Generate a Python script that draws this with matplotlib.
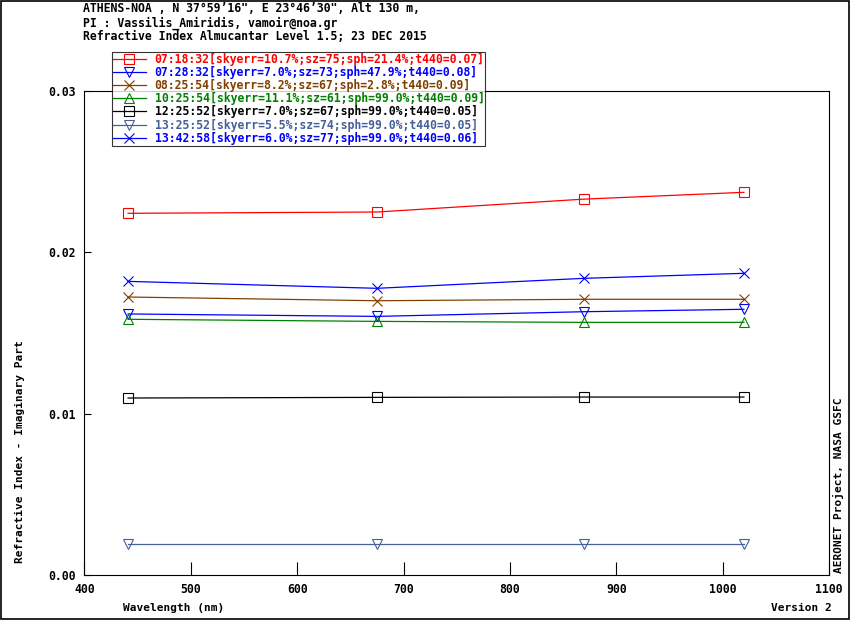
import matplotlib
matplotlib.use('Agg')
import matplotlib.pyplot as plt
from matplotlib.patches import Rectangle

# Wavelengths (nm)
wavelength = [441, 675, 870, 1020]

# Imaginary part of refractive index, one list per almucantar
k_0718 = [0.02242, 0.02250, 0.02330, 0.02372]
k_0728 = [0.01618, 0.01603, 0.01632, 0.01647]
k_0825 = [0.01723, 0.01700, 0.01709, 0.01709]
k_1025 = [0.01585, 0.01572, 0.01566, 0.01566]
k_1225 = [0.01097, 0.01101, 0.01103, 0.01103]
k_1325 = [0.00192, 0.00192, 0.00192, 0.00192]
k_1342 = [0.01820, 0.01777, 0.01839, 0.01870]

labels = [
  "07:18:32[skyerr=10.7%;sz=75;sph=21.4%;t440=0.07]",
  "07:28:32[skyerr=7.0%;sz=73;sph=47.9%;t440=0.08]",
  "08:25:54[skyerr=8.2%;sz=67;sph=2.8%;t440=0.09]",
  "10:25:54[skyerr=11.1%;sz=61;sph=99.0%;t440=0.09]",
  "12:25:52[skyerr=7.0%;sz=67;sph=99.0%;t440=0.05]",
  "13:25:52[skyerr=5.5%;sz=74;sph=99.0%;t440=0.05]",
  "13:42:58[skyerr=6.0%;sz=77;sph=99.0%;t440=0.06]",
]
series = [k_0718, k_0728, k_0825, k_1025, k_1225, k_1325, k_1342]
colors = ['#ff0000', '#0000ff', '#804000', '#008000', '#000000', '#46609a', '#0000ff']
markers = ['s', 'v', 'x', '^', 's', 'v', 'x']

xticks = [400, 500, 600, 700, 800, 900, 1000, 1100]
yticks = [0.0, 0.01, 0.02, 0.03]

mono = 'DejaVu Sans Mono'
plt.rcParams['font.family'] = mono
plt.rcParams['font.weight'] = 'bold'

fig = plt.figure(figsize=(8.5, 6.2), dpi=100, facecolor='w')
ax = fig.add_axes([0.0994, 0.0726, 0.9753 - 0.0994, 0.8532 - 0.0726])

handles = []
for y, c, m, lab in zip(series, colors, markers, labels):
  h, = ax.plot(wavelength, y, color=c, marker=m, markersize=6.5, markerfacecolor='none',
               markeredgecolor=c, markeredgewidth=0.8, linewidth=0.9, label=lab)
  handles.append(h)

ax.set_xlim(400, 1100)
ax.set_ylim(0, 0.03)
ax.set_xticks(xticks)
ax.set_xticklabels([str(v) for v in xticks])
ax.set_yticks(yticks)
ax.set_yticklabels(['%.2f' % v for v in yticks])
ax.tick_params(axis='x', direction='in', length=9.5, width=0.8, pad=6, labelsize=8.3)
ax.tick_params(axis='y', direction='in', length=5, width=0.8, pad=6, labelsize=8.3)
for s in ax.spines.values():
  s.set_linewidth(0.8)

# Legend at top
leg = fig.legend(handles=handles, loc='upper left', bbox_to_anchor=(112/850, 1 - 52/620),
                 bbox_transform=fig.transFigure, frameon=True, fancybox=False,
                 borderpad=0.05, borderaxespad=0, handlelength=2.9, handletextpad=0.75,
                 labelspacing=0.02, prop={'family': mono, 'weight': 'bold', 'size': 8.3})
leg.get_frame().set_edgecolor('black')
leg.get_frame().set_linewidth(0.8)
for t, c in zip(leg.get_texts(), colors):
  t.set_color(c)

# Header text
fig.text(83/850, 1 - 9/620, "ATHENS-NOA , N 37\u00b059\u201916\", E 23\u00b046\u201930\", Alt 130 m,",
         ha='left', va='center', fontsize=8.3, fontweight='bold')
fig.text(83/850, 1 - 23/620, "PI : Vassilis_Amiridis, vamoir@noa.gr",
         ha='left', va='center', fontsize=8.3, fontweight='bold')
fig.text(83/850, 1 - 36/620, "Refractive Index Almucantar Level 1.5; 23 DEC 2015",
         ha='left', va='center', fontsize=8.3, fontweight='bold')

# Axis labels and side notes
fig.text(123/850, 1 - 608/620, "Wavelength (nm)", ha='left', va='center', fontsize=8, fontweight='bold')
fig.text(832/850, 1 - 608/620, "Version 2", ha='right', va='center', fontsize=8, fontweight='bold')
fig.text(20/850, 1 - 563/620, "Refractive Index - Imaginary Part", rotation=90,
         ha='center', va='bottom', fontsize=8, fontweight='bold')
fig.text(838/850, 1 - 573/620, "AERONET Project, NASA GSFC", rotation=90,
         ha='center', va='bottom', fontsize=8, fontweight='bold')

# Outer border
fig.patches.append(Rectangle((0.0008, 0.001), 0.998, 0.998, transform=fig.transFigure,
                             fill=False, edgecolor='black', linewidth=1.2))

fig.savefig('out.png', dpi=100)
